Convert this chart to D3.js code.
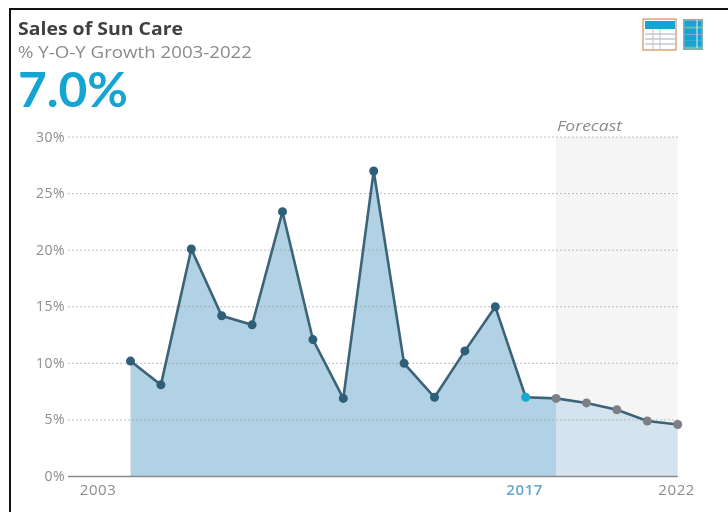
<!DOCTYPE html>
<html><head><meta charset="utf-8">
<script src="https://cdn.jsdelivr.net/npm/d3@7"></script>
<style>
html,body{margin:0;padding:0;background:#fff;overflow:hidden}
svg{display:block;font-family:"Open Sans",Lato,sans-serif}
</style></head><body><svg id="c" width="728" height="512"></svg>
<script>
const years=[2004,2005,2006,2007,2008,2009,2010,2011,2012,2013,2014,2015,2016,2017,2018,2019,2020,2021,2022];
const growth=[10.2,8.1,20.1,14.2,13.4,23.4,12.1,6.9,27,10,7,11.1,15,7,6.9,6.5,5.9,4.9,4.6];
const yTicks=[0,5,10,15,20,25,30];
const xLabels=[2003,2017,2022];
const lastActual=2017, forecastStart=2018, headline="7.0%";
const titleText="Sales of Sun Care", subtitleText="% Y-O-Y Growth 2003-2022", forecastText="Forecast";

const svg=d3.select("#c");
const x=d3.scaleLinear().domain([2003,2022]).range([100.1,677.7]);
const y=d3.scaleLinear().domain([0,30]).range([476.5,137]);
const defs=svg.append("defs");
const b=defs.append("filter").attr("id","soft").attr("x","-5%").attr("y","-5%").attr("width","110%").attr("height","110%");
b.append("feGaussianBlur").attr("stdDeviation",0.55);
const p=defs.append("pattern").attr("id","hatch").attr("width",3).attr("height",3).attr("patternUnits","userSpaceOnUse");
p.append("rect").attr("width",3).attr("height",3).attr("fill","#f7f7f7");
p.append("path").attr("d","M0 3L3 0").attr("stroke","#eeeeee").attr("stroke-width",.7);

// frame
svg.append("path").attr("d","M10 512V9H728").attr("fill","none").attr("stroke","#111").attr("stroke-width",2);

const g=svg.append("g").attr("filter","url(#soft)");
// forecast band
g.append("rect").attr("x",x(forecastStart)).attr("y",y(30)).attr("width",x(2022)-x(forecastStart)).attr("height",y(0)-y(30)).attr("fill","url(#hatch)");

// areas
const area=d3.area().x(d=>x(d.yr)).y0(y(0)).y1(d=>y(d.v));
const pts=years.map((yr,i)=>({yr,v:growth[i]}));
g.append("path").datum(pts.filter(d=>d.yr<=forecastStart)).attr("d",area).attr("fill","#b1d1e4");
g.append("path").datum(pts.filter(d=>d.yr>=forecastStart)).attr("d",area).attr("fill","#d4e4ee");

// grid
g.append("g").selectAll("line").data(yTicks.filter(d=>d>0)).join("line")
 .attr("x1",68).attr("x2",x(2022)).attr("y1",d=>y(d)).attr("y2",d=>y(d))
 .attr("stroke","#9ea3a6").attr("stroke-opacity",.7).attr("stroke-width",1).attr("stroke-dasharray","2 2");
g.append("line").attr("x1",68).attr("x2",x(2022)).attr("y1",y(0)).attr("y2",y(0)).attr("stroke","#8a8a8a").attr("stroke-width",1.5);

// y labels
g.append("g").selectAll("text").data(yTicks).join("text")
 .attr("x",65).attr("y",d=>y(d)+4.5).attr("text-anchor","end").attr("font-size",14).attr("letter-spacing",.5).attr("fill","#8d8d8d").text(d=>d+"%");
// x labels
g.append("g").selectAll("text").data(xLabels).join("text")
 .attr("x",d=>d===2003?x(d)-2:x(d)-1).attr("y",495).attr("text-anchor","middle").attr("font-size",15)
 .attr("letter-spacing",.6)
 .attr("fill",d=>d===lastActual?"#62a8cf":"#8d8d8d").attr("font-weight",d=>d===lastActual?600:400).text(d=>d);

// line
const line=d3.line().x(d=>x(d.yr)).y(d=>y(d.v));
g.append("path").datum(pts).attr("d",line).attr("fill","none").attr("stroke","#3d6478").attr("stroke-width",2.6);
g.append("g").selectAll("circle").data(pts).join("circle")
 .attr("cx",d=>x(d.yr)).attr("cy",d=>y(d.v)).attr("r",4.5)
 .attr("fill",d=>d.yr===lastActual?"#16a9d6":d.yr>=forecastStart?"#7d7f84":"#2d5f78");

// titles
g.append("text").attr("x",18).attr("y",35).attr("font-size",17.5).attr("font-weight",700).attr("fill","#404040").attr("textLength",165).attr("lengthAdjust","spacingAndGlyphs").text(titleText);
g.append("text").attr("x",18).attr("y",57.5).attr("font-size",15.5).attr("fill","#8a8a8a").attr("textLength",234).attr("lengthAdjust","spacingAndGlyphs").text(subtitleText);
g.append("text").attr("x",18).attr("y",107).attr("font-family","Lato").attr("font-size",48).attr("font-weight",700).attr("fill","#12a5d3").attr("textLength",110).attr("lengthAdjust","spacingAndGlyphs").text(headline);
g.append("text").attr("x",557).attr("y",131).attr("font-size",14.5).attr("font-style","italic").attr("fill","#8b8b8b").attr("textLength",65).attr("lengthAdjust","spacingAndGlyphs").text(forecastText);

// icons
const ic=g.append("g");
ic.append("rect").attr("x",643).attr("y",19).attr("width",33).attr("height",31).attr("fill","#fff").attr("stroke","#d7a67c").attr("stroke-width",1.5);
ic.append("rect").attr("x",645).attr("y",21).attr("width",30).attr("height",8).attr("fill","#12a5d3");
ic.append("g").selectAll("line").data([34,39,44]).join("line").attr("x1",645).attr("x2",675).attr("y1",d=>d).attr("y2",d=>d).attr("stroke","#9fb0ba");
ic.append("g").selectAll("line").data([653,660]).join("line").attr("x1",d=>d).attr("x2",d=>d).attr("y1",29).attr("y2",49).attr("stroke","#b8c4cb");
ic.append("rect").attr("x",683).attr("y",19).attr("width",20).attr("height",31).attr("fill","#7fb3b0");
ic.append("g").selectAll("rect").data([21,28.5,35,41]).join("rect").attr("x",684.5).attr("y",d=>d).attr("width",17).attr("height",5.6).attr("fill","#12a5d3");
ic.append("line").attr("x1",697).attr("x2",697).attr("y1",20).attr("y2",48).attr("stroke","#dff1f5").attr("stroke-width",1);
</script></body></html>
